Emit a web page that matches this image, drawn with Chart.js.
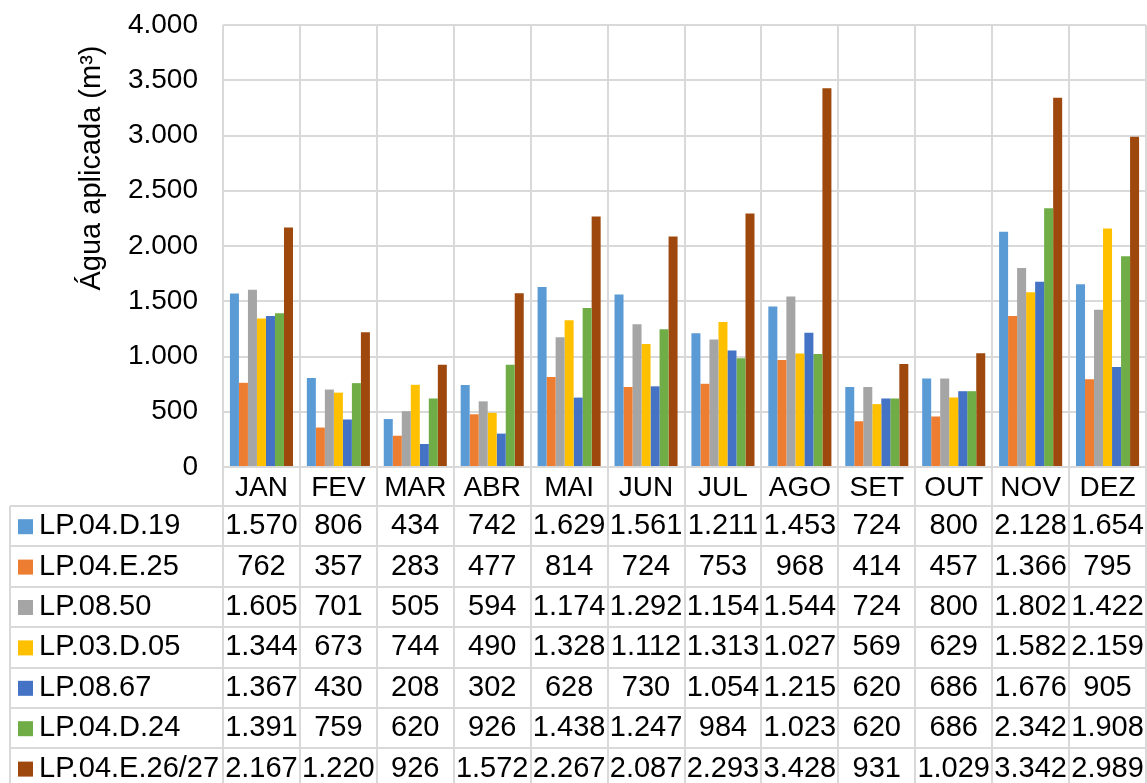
<!DOCTYPE html>
<html>
<head>
<meta charset="utf-8">
<script src="https://cdn.jsdelivr.net/npm/chart.js@4/dist/chart.umd.min.js"></script>
<style>
  body { margin: 0; background: #fff; }
  canvas { display: block; }
</style>
</head>
<body>
<canvas id="chart" width="1147" height="783"></canvas>
<script>
const months = ['JAN', 'FEV', 'MAR', 'ABR', 'MAI', 'JUN', 'JUL', 'AGO', 'SET', 'OUT', 'NOV', 'DEZ']

const lp0419 = [1570, 806, 434, 742, 1629, 1561, 1211, 1453, 724, 800, 2128, 1654]
const lp0425 = [762, 357, 283, 477, 814, 724, 753, 968, 414, 457, 1366, 795]
const lp0850 = [1605, 701, 505, 594, 1174, 1292, 1154, 1544, 724, 800, 1802, 1422]
const lp0305 = [1344, 673, 744, 490, 1328, 1112, 1313, 1027, 569, 629, 1582, 2159]
const lp0867 = [1367, 430, 208, 302, 628, 730, 1054, 1215, 620, 686, 1676, 905]
const lp0424 = [1391, 759, 620, 926, 1438, 1247, 984, 1023, 620, 686, 2342, 1908]
const lp042627 = [2167, 1220, 926, 1572, 2267, 2087, 2293, 3428, 931, 1029, 3342, 2989]

const seriesNames = ['LP.04.D.19', 'LP.04.E.25', 'LP.08.50', 'LP.03.D.05', 'LP.08.67', 'LP.04.D.24', 'LP.04.E.26/27']
const seriesValues = [lp0419, lp0425, lp0850, lp0305, lp0867, lp0424, lp042627]
const colors = ['#5B9BD5', '#ED7D31', '#A5A5A5', '#FFC000', '#4472C4', '#70AD47', '#9E480E']

const font = '"Liberation Sans", Arial, sans-serif'
const gridColor = '#d9d9d9'

// 1570 -> "1.570"
const fmt = (v) => String(v).replace(/\B(?=(\d{3})+(?!\d))/g, '.')

// data table + axis title, drawn under the plot like Excel does
const tablePlugin = {
  id: 'dataTable',
  afterDraw(chart) {
    const ctx = chart.ctx
    const x = chart.scales.x
    const area = chart.chartArea
    const bottom = chart.height
    const rowTop = 506
    const rowH = 40.4
    const colW = x.width / months.length

    ctx.save()
    ctx.strokeStyle = gridColor
    ctx.lineWidth = 2

    // vertical lines through header + table
    for (let i = 0; i <= months.length; i++) {
      const px = Math.round(area.left + i * colW)
      ctx.beginPath()
      ctx.moveTo(px, area.bottom)
      ctx.lineTo(px, bottom)
      ctx.stroke()
    }
    // left edge of legend column
    ctx.beginPath()
    ctx.moveTo(10, rowTop)
    ctx.lineTo(10, bottom)
    ctx.stroke()
    // row lines
    for (let r = 0; r <= seriesNames.length; r++) {
      const py = Math.round(rowTop + r * rowH)
      ctx.beginPath()
      ctx.moveTo(10, py)
      ctx.lineTo(area.right, py)
      ctx.stroke()
    }

    ctx.fillStyle = '#000'
    ctx.textBaseline = 'middle'
    ctx.textAlign = 'center'

    // month header
    ctx.font = '28px ' + font
    months.forEach((m, i) => {
      ctx.fillText(m, x.getPixelForValue(i), 488)
    })

    // rows
    ctx.font = '29px ' + font
    seriesNames.forEach((name, r) => {
      const cy = rowTop + r * rowH + rowH / 2
      ctx.fillStyle = colors[r]
      ctx.fillRect(18, cy - 7, 15, 15)
      ctx.fillStyle = '#000'
      ctx.textAlign = 'left'
      ctx.fillText(name, 39, cy)
      ctx.textAlign = 'center'
      seriesValues[r].forEach((v, i) => {
        ctx.fillText(fmt(v), x.getPixelForValue(i), cy)
      })
    })

    // y axis title
    ctx.font = '29px ' + font
    ctx.translate(92, 168)
    ctx.rotate(-Math.PI / 2)
    ctx.textAlign = 'center'
    ctx.fillText('Água aplicada (m³)', 0, 0)
    ctx.restore()
  }
}

new Chart(document.getElementById('chart'), {
  type: 'bar',
  data: {
    labels: months,
    datasets: seriesNames.map((name, i) => ({
      label: name,
      data: seriesValues[i],
      backgroundColor: colors[i],
      borderWidth: 0
    }))
  },
  options: {
    responsive: false,
    animation: false,
    layout: { padding: { top: 25, right: 1, bottom: 316, left: 0 } },
    plugins: {
      legend: { display: false },
      tooltip: { enabled: false }
    },
    datasets: {
      bar: { barPercentage: 1, categoryPercentage: 0.82 }
    },
    scales: {
      x: {
        ticks: { display: false },
        grid: { color: gridColor, lineWidth: 2, drawTicks: false },
        border: { color: gridColor, width: 2 }
      },
      y: {
        min: 0,
        max: 4000,
        ticks: {
          stepSize: 500,
          padding: 0,
          color: '#000',
          font: { family: font, size: 28 },
          callback: (v) => fmt(v)
        },
        // invisible tick marks keep the labels off the plot without
        // adding tick padding to the top of the chart area
        grid: { color: gridColor, lineWidth: 2, drawTicks: true, tickLength: 25, tickColor: 'rgba(0,0,0,0)' },
        border: { display: false },
        afterFit: (scale) => { scale.width = 223 }
      }
    }
  },
  plugins: [tablePlugin]
})
</script>
</body>
</html>
